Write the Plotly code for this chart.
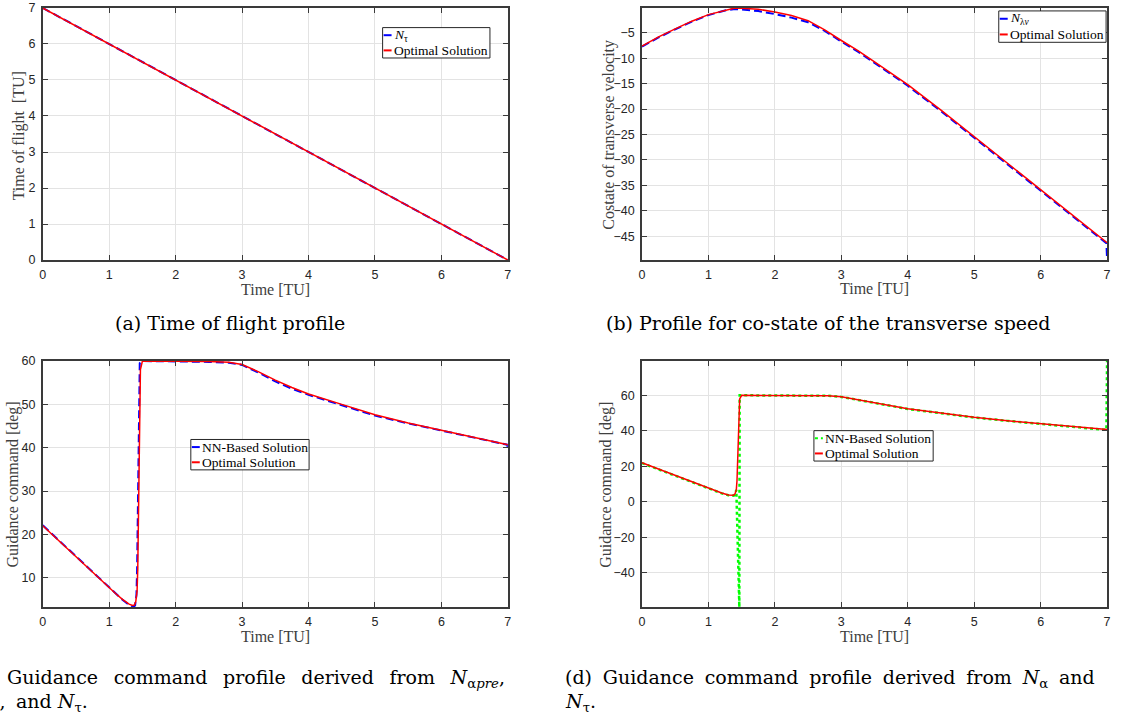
import plotly.graph_objects as go

# ---------------- data ----------------
# (a) time of flight
t_a = [0, 1, 2, 3, 4, 5, 6, 7]
tof_nn = [7, 6, 5, 4, 3, 2, 1, 0]
tof_opt = [7, 6, 5, 4, 3, 2, 1, 0]

# (b) costate of transverse velocity
t_b = [0, 0.25, 0.5, 0.75, 1.0, 1.25, 1.4, 1.5, 1.75, 2.0, 2.25, 2.5, 2.75, 3.0, 3.25,
       3.5, 3.75, 4.0, 4.5, 5.0, 5.5, 6.0, 6.5, 7.0]
lam_opt = [-7.6, -5.8, -4.2, -2.7, -1.4, -0.5, -0.1, -0.15, -0.35, -0.9, -1.6, -2.6, -4.4,
           -6.5, -8.5, -10.7, -12.9, -15.2, -20.2, -25.4, -30.6, -35.9, -41.1, -46.3]
t_b_nn = [0, 0.25, 0.5, 0.75, 1.0, 1.25, 1.4, 1.5, 1.75, 2.0, 2.25, 2.5, 2.75, 3.0, 3.25,
          3.5, 3.75, 4.0, 4.5, 5.0, 5.5, 6.0, 6.5, 6.99, 7.0]
lam_nn = [-7.7, -5.9, -4.3, -2.8, -1.5, -0.6, -0.3, -0.4, -0.7, -1.3, -2.0, -2.9, -4.6,
          -6.7, -8.7, -10.9, -13.1, -15.4, -20.4, -25.6, -30.8, -36.0, -41.2, -46.4, -49.7]

# (c)/(d) guidance command, optimal solution
t_opt = [0, 0.25, 0.5, 0.75, 1.0, 1.1, 1.2, 1.3, 1.35, 1.38, 1.4, 1.42, 1.43, 1.44, 1.45,
         1.46, 1.47, 1.5, 1.75, 2.0, 2.5, 2.8, 3.0, 3.25, 3.5, 3.75, 4.0, 4.5, 5.0, 5.5,
         6.0, 6.5, 7.0]
alpha_opt = [22.0, 18.4, 14.9, 11.3, 7.7, 6.3, 5.0, 3.9, 3.6, 3.7, 4.5, 7.0, 12.0, 22.0,
             36.0, 50.0, 58.0, 60.0, 60.0, 60.0, 59.9, 59.7, 59.2, 57.5, 55.6, 53.9, 52.4,
             50.0, 47.6, 45.7, 44.0, 42.3, 40.7]

# (c) NN-based solution from N_alpha_pre
t_c_nn = [0, 0.25, 0.5, 0.75, 1.0, 1.1, 1.2, 1.3, 1.36, 1.39, 1.41, 1.42, 1.43, 1.44,
          1.45, 1.46, 1.5, 1.75, 2.0, 2.5, 2.8, 3.0, 3.25, 3.5, 3.75, 4.0, 4.5, 5.0, 5.5,
          6.0, 6.5, 6.99, 7.0]
alpha_c_nn = [22.1, 18.5, 15.0, 11.4, 7.8, 6.3, 4.9, 3.7, 3.2, 3.6, 6.0, 12.0, 24.0, 40.0,
              55.0, 59.5, 60.0, 60.0, 59.9, 59.8, 59.6, 59.1, 57.3, 55.3, 53.6, 52.2, 49.8,
              47.4, 45.6, 43.9, 42.2, 40.7, 40.0]

# (d) NN-based solution from N_alpha
t_d_nn = [0, 0.25, 0.5, 0.75, 1.0, 1.1, 1.2, 1.3, 1.35, 1.38, 1.4, 1.42, 1.465, 1.47,
          1.5, 1.75, 2.0, 2.5, 2.8, 3.0, 3.25, 3.5, 3.75, 4.0, 4.5, 5.0, 5.5, 6.0, 6.5,
          6.99, 7.0]
alpha_d_nn = [21.8, 18.2, 14.7, 11.1, 7.5, 6.1, 4.8, 3.7, 3.4, 3.5, 4.3, 6.8, -59.3, 60.0,
              60.0, 60.0, 60.0, 59.9, 59.7, 59.1, 57.4, 55.5, 53.8, 52.3, 49.9, 47.5, 45.6,
              43.9, 42.2, 40.5, 79.3]

# ---------------- layout helpers ----------------
W, H = 1124, 724


def px(x):
    return x / W


def py(y):
    return 1 - y / H


BLUE = "#0000ff"
RED = "#ff0000"
GREEN = "#00ff00"
AX = "#3a3a3a"
GRID = "#e3e3e3"
TICKFONT = dict(family="Liberation Sans, Arial, sans-serif", size=12.5, color="#262626")
SERIF = "Liberation Serif, Times New Roman, serif"
CAPFONT = "DejaVu Serif, serif"
NN_DASH = "8px,4px"

fig = go.Figure()

# (a)
fig.add_trace(go.Scatter(x=t_a, y=tof_nn, mode="lines", line=dict(color=BLUE, width=2, dash=NN_DASH),
                         xaxis="x", yaxis="y", showlegend=False))
fig.add_trace(go.Scatter(x=t_a, y=tof_opt, mode="lines", line=dict(color=RED, width=1.5),
                         xaxis="x", yaxis="y", showlegend=False))
# (b)
fig.add_trace(go.Scatter(x=t_b_nn, y=lam_nn, mode="lines", line=dict(color=BLUE, width=2, dash=NN_DASH),
                         xaxis="x2", yaxis="y2", showlegend=False))
fig.add_trace(go.Scatter(x=t_b, y=lam_opt, mode="lines", line=dict(color=RED, width=1.5),
                         xaxis="x2", yaxis="y2", showlegend=False))
# (c)
fig.add_trace(go.Scatter(x=t_c_nn, y=alpha_c_nn, mode="lines", line=dict(color=BLUE, width=2, dash=NN_DASH),
                         xaxis="x3", yaxis="y3", showlegend=False))
fig.add_trace(go.Scatter(x=t_opt, y=alpha_opt, mode="lines", line=dict(color=RED, width=1.5),
                         xaxis="x3", yaxis="y3", showlegend=False))
# (d)
fig.add_trace(go.Scatter(x=t_d_nn, y=alpha_d_nn, mode="lines", line=dict(color=GREEN, width=2.5, dash="dot"),
                         xaxis="x4", yaxis="y4", showlegend=False))
fig.add_trace(go.Scatter(x=t_opt, y=alpha_opt, mode="lines", line=dict(color=RED, width=1.5),
                         xaxis="x4", yaxis="y4", showlegend=False))


def xax(domain, anchor):
    return dict(domain=domain, anchor=anchor, range=[0, 7], tickvals=[0, 1, 2, 3, 4, 5, 6, 7],
                showline=True, mirror="ticks", linecolor=AX, linewidth=1.5, ticks="inside",
                ticklen=5, tickcolor=AX, showgrid=True, gridcolor=GRID, gridwidth=1,
                zeroline=False, tickfont=TICKFONT, ticklabelstandoff=2)


def yax(domain, anchor, rng, vals):
    return dict(domain=domain, anchor=anchor, range=rng, tickvals=vals,
                showline=True, mirror="ticks", linecolor=AX, linewidth=1.5, ticks="inside",
                ticklen=5, tickcolor=AX, showgrid=True, gridcolor=GRID, gridwidth=1,
                zeroline=False, tickfont=TICKFONT, ticklabelstandoff=3)


LX = [px(40), px(508)]
RX = [px(643), px(1111)]
TY = [py(258), py(1)]
BY = [py(612), py(361)]

fig.update_layout(
    width=W, height=H, margin=dict(l=0, r=0, t=0, b=0),
    paper_bgcolor="white", plot_bgcolor="white", showlegend=False,
    xaxis=xax(LX, "y"), yaxis=yax(TY, "x", [0, 7], [0, 1, 2, 3, 4, 5, 6, 7]),
    xaxis2=xax(RX, "y2"), yaxis2=yax(TY, "x2", [-49.7, -0.1], [-45, -40, -35, -30, -25, -20, -15, -10, -5]),
    xaxis3=xax(LX, "y3"), yaxis3=yax(BY, "x3", [3.2, 60], [10, 20, 30, 40, 50, 60]),
    xaxis4=xax(RX, "y4"), yaxis4=yax(BY, "x4", [-59.3, 79.3], [-40, -20, 0, 20, 40, 60]),
)

ann = []
shapes = []


def text(x, y, s, size=16, color="#404040", angle=0, xanchor="center", yanchor="middle", family=SERIF):
    ann.append(dict(x=px(x), y=py(y), xref="paper", yref="paper", text=s, showarrow=False,
                    textangle=angle, xanchor=xanchor, yanchor=yanchor,
                    font=dict(family=family, size=size, color=color)))


# axis titles
text(274, 288, "Time [TU]")
text(877, 287, "Time [TU]")
text(274, 642, "Time [TU]")
text(877, 642, "Time [TU]")
text(17, 131, "Time of flight  [TU]", angle=-90)
text(610, 130, "Costate of transverse velocity", angle=-90)
text(10, 487, "Guidance command [deg]", angle=-90)
text(606, 487, "Guidance command [deg]", angle=-90)

# captions (justified text in the reference -> widened word gaps)
CAP = 19
EN = " \u2002"
FOUR = " \u2005"
text(228, 322, "(a) Time of flight profile", size=CAP, color="black", family=CAPFONT)
text(830, 322, "(b) Profile for co-state of the transverse speed", size=CAP, color="black", family=CAPFONT)
text(-8, 685, "(c)", size=CAP, color="black", xanchor="right", family=CAPFONT)
text(2, 685, EN.join(["Guidance", "command", "profile", "derived", "from",
                      "<i>N</i><sub>α<i>pre</i></sub>,"]),
     size=CAP, color="black", xanchor="left", family=CAPFONT)
text(5, 709, "<i>N</i><sub>λ<i>v</i></sub>,", size=CAP, color="black", xanchor="right", family=CAPFONT)
text(11, 709, "and <i>N</i><sub>τ</sub>.", size=CAP, color="black", xanchor="left", family=CAPFONT)
text(564, 685, FOUR.join(["(d)", "Guidance", "command", "profile", "derived", "from",
                          "<i>N</i><sub>α</sub>", "and"]),
     size=CAP, color="black", xanchor="left", family=CAPFONT)
text(564, 709, "<i>N</i><sub>τ</sub>.", size=CAP, color="black", xanchor="left", family=CAPFONT)


# manual legends
def legend(x0, y0, x1, y1, entries):
    shapes.append(dict(type="rect", xref="paper", yref="paper", x0=px(x0), x1=px(x1),
                       y0=py(y1), y1=py(y0), line=dict(color="#262626", width=1),
                       fillcolor="white", layer="above"))
    n = len(entries)
    step = (y1 - y0) / n
    for i, (label, color, dash) in enumerate(entries):
        yc = y0 + step * (i + 0.5)
        shapes.append(dict(type="line", xref="paper", yref="paper", x0=px(x0 + 1), x1=px(x0 + 9),
                           y0=py(yc), y1=py(yc), line=dict(color=color, width=2, dash=dash),
                           layer="above"))
        ann.append(dict(x=px(x0 + 9), y=py(yc), xref="paper", yref="paper", text=label,
                        showarrow=False, xanchor="left", yanchor="middle",
                        font=dict(family=SERIF, size=13.5, color="black")))


legend(382, 21, 490, 52, [("<i>N</i><sub>τ</sub>", BLUE, "solid"), ("Optimal Solution", RED, "solid")])
legend(1002, 4, 1110, 36, [("<i>N</i><sub>λ<i>v</i></sub>", BLUE, "solid"), ("Optimal Solution", RED, "solid")])
legend(189, 441, 308, 472, [("NN-Based Solution", BLUE, "solid"), ("Optimal Solution", RED, "solid")])
legend(816, 432, 936, 463, [("NN-Based Solution", GREEN, "dot"), ("Optimal Solution", RED, "solid")])

fig.update_layout(annotations=ann, shapes=shapes)
fig.write_html("out.html")
